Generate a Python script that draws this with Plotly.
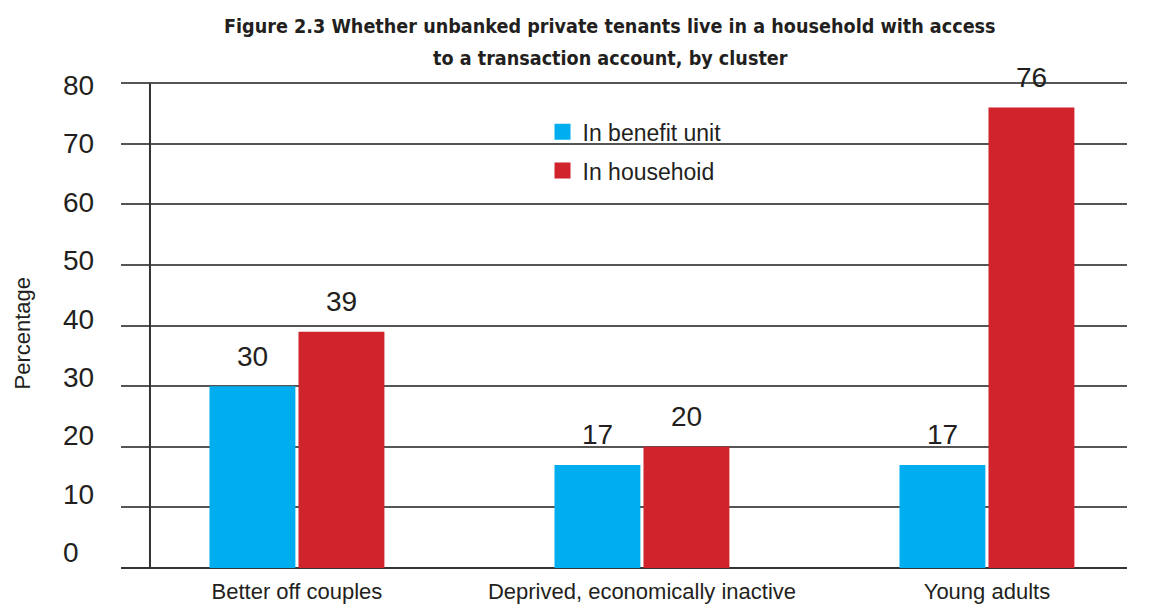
import plotly.graph_objects as go

# Survey results by cluster (percentages)
categories = ["Better off couples", "Deprived, economically inactive", "Young adults"]
benefit_unit = [30, 17, 17]
household = [39, 20, 76]
series_names = ["In benefit unit", "In househoid"]
series_colors = ["#00AEEF", "#D0232B"]
y_ticks = [0, 10, 20, 30, 40, 50, 60, 70, 80]

title_lines = [
    "Figure 2.3 Whether unbanked private tenants live in a household with access",
    "to a transaction account, by cluster",
]

FONT = "Liberation Sans"
TITLE_FONT = "DejaVu Sans Condensed"
TEXT = "#231f20"

fig = go.Figure()
for name, vals, col in zip(series_names, [benefit_unit, household], series_colors):
    fig.add_trace(go.Bar(
        x=categories, y=vals, name=name, marker=dict(color=col, line=dict(width=0)),
        showlegend=False,
    ))
    # legend entry with a larger square swatch
    fig.add_trace(go.Scatter(
        x=[None], y=[None], mode="markers", name=name, legendgroup=name,
        marker=dict(symbol="square", size=17, color=col),
    ))

annotations = []
# value labels above each bar
for vals, shift in zip([benefit_unit, household], [-44.5, 44.5]):
    for c, v in zip(categories, vals):
        annotations.append(dict(
            x=c, y=v, xref="x", yref="y", text=str(v), showarrow=False,
            xshift=shift, yshift=30, yanchor="middle", xanchor="center",
            font=dict(family=FONT, size=28, color=TEXT),
        ))

# left-aligned y tick labels
for v in y_ticks:
    annotations.append(dict(
        x=-0.0596, y=v, xref="paper", yref="y", text=str(v), showarrow=False,
        xanchor="left", yanchor="middle", yshift=(80 - v) * 0.22 - 2.3,
        font=dict(family=FONT, size=28, color=TEXT),
    ))

# axis title
annotations.append(dict(
    x=-0.0984, y=0.4825, xref="paper", yref="paper", text="Percentage", textangle=-90,
    showarrow=False, xanchor="center", yanchor="middle",
    font=dict(family=FONT, size=22, color=TEXT),
))

# chart title
for i, line in enumerate(title_lines):
    annotations.append(dict(
        x=0.4861, y=[1.1134, 1.0474][i], xref="paper", yref="paper", text=line,
        showarrow=False, xanchor="center", yanchor="middle",
        font=dict(family=TITLE_FONT, size=19.6, color=TEXT, weight="bold"),
    ))

shapes = [
    # vertical axis line
    dict(type="line", xref="x", yref="y", x0=-0.426, x1=-0.426, y0=0, y1=80,
         line=dict(color="#333333", width=2), layer="above"),
    # white panel behind the legend
    dict(type="rect", xref="paper", yref="paper", x0=0.4165, x1=0.6511,
         y0=0.79, y1=0.955, fillcolor="white", line=dict(width=0), layer="between"),
]

fig.update_layout(
    width=1156, height=608,
    margin=dict(l=121, r=29, t=82, b=40, autoexpand=False),
    paper_bgcolor="white", plot_bgcolor="white",
    barmode="group", bargap=0.484, bargroupgap=0.035,
    font=dict(family=FONT, color=TEXT),
    showlegend=True,
    legend=dict(
        x=0.419, y=0.942, xanchor="left", yanchor="top",
        bgcolor="rgba(0,0,0,0)", tracegroupgap=6,
        font=dict(family=FONT, size=23, color=TEXT),
    ),
    xaxis=dict(
        range=[-0.51, 2.406], showgrid=False, showline=False, zeroline=False,
        ticks="", ticklabelstandoff=8, automargin=False,
        tickfont=dict(family=FONT, size=22, color=TEXT),
    ),
    yaxis=dict(
        range=[0, 80.2], tickvals=y_ticks, showticklabels=False, showgrid=True,
        gridcolor="#555555", gridwidth=1.5, zeroline=True, zerolinecolor="#333333",
        zerolinewidth=2, showline=False, automargin=False,
    ),
    annotations=annotations,
    shapes=shapes,
)

fig.write_html("out.html")
